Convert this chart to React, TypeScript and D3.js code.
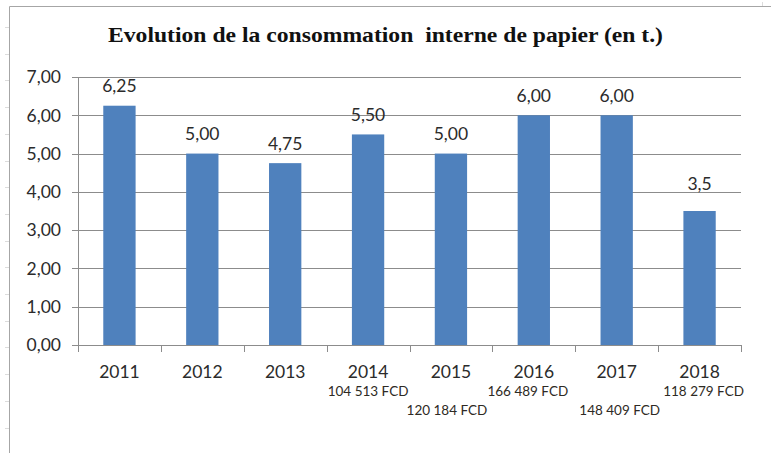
import * as d3 from 'd3'

const years = ['2011', '2012', '2013', '2014', '2015', '2016', '2017', '2018']
const consumption = [6.25, 5.0, 4.75, 5.5, 5.0, 6.0, 6.0, 3.5]
const valueLabels = ['6,25', '5,00', '4,75', '5,50', '5,00', '6,00', '6,00', '3,5']
const costLabels = ['', '', '', '104 513 FCD', '120 184 FCD', '166 489 FCD', '148 409 FCD', '118 279 FCD']
const costRow = [0, 0, 0, 0, 1, 0, 1, 0]
const yTicks = [0, 1, 2, 3, 4, 5, 6, 7]

const TITLE = 'Evolution de la consommation\u00a0 interne de papier (en t.)'
const BAR = '#4f81bd'
const GRID = '#8c8c8c'
const TEXT = '#2b2b2b'
const FONT = 'Lato, "Noto Sans", sans-serif'

// hand placement of a couple of labels in the original sheet
const costDx: Record<string, number> = { '2015': -4, '2016': -6, '2017': 3, '2018': 4 }
const labelLift: Record<string, number> = { '2018': 8 }

export default function App() {
  const width = 771
  const height = 453
  const left = 78
  const right = 741
  const top = 77
  const bottom = 345

  const x = d3.scaleBand<string>().domain(years).range([left, right]).paddingInner(0.61).paddingOuter(0.305)
  const y = d3.scaleLinear().domain([0, 7]).range([bottom, top])
  const step = x.step()
  const fmt = (v: number) => d3.format('.2f')(v).replace('.', ',')

  return (
    <svg
      width={width}
      height={height}
      viewBox={`0 0 ${width} ${height}`}
      style={{ position: 'absolute', left: 0, top: 0, background: '#fff' }}
    >
      {/* sheet frame */}
      <line x1={9.5} y1={6.5} x2={771} y2={6.5} stroke="#a6a6a6" />
      <line x1={9.5} y1={6.5} x2={9.5} y2={453} stroke="#a6a6a6" />
      {d3.range(27, 453, 26.7).map((yy) => (
        <line key={yy} x1={5} x2={9} y1={Math.round(yy) + 0.5} y2={Math.round(yy) + 0.5} stroke="#dcdcdc" />
      ))}
      <line x1={762.5} x2={762.5} y1={2} y2={6} stroke="#dcdcdc" />

      <text
        x={(108 + 663) / 2}
        y={42}
        textAnchor="middle"
        fontFamily='"Liberation Serif", "DejaVu Serif", serif'
        fontWeight="bold"
        fontSize={20}
        textLength={555}
        lengthAdjust="spacingAndGlyphs"
        fill="#111"
      >
        {TITLE}
      </text>

      {/* grid + y axis */}
      {yTicks.map((t) => (
        <g key={t}>
          <line x1={left - 6} x2={right} y1={Math.round(y(t)) + 0.5} y2={Math.round(y(t)) + 0.5} stroke={GRID} />
          <text
            x={left - 17}
            y={y(t)}
            dy="0.36em"
            textAnchor="end"
            fontFamily={FONT}
            fontSize={17.5}
            fill={TEXT}
          >
            {fmt(t)}
          </text>
        </g>
      ))}
      <line x1={left + 0.5} x2={left + 0.5} y1={top} y2={bottom} stroke={GRID} />

      {/* x axis ticks at category boundaries */}
      {d3.range(years.length + 1).map((i) => {
        const xx = Math.round(left + i * step) + 0.5
        return <line key={i} x1={xx} x2={xx} y1={bottom} y2={bottom + 7} stroke={GRID} />
      })}

      {years.map((yr, i) => {
        const bx = x(yr) ?? 0
        const cx = bx + x.bandwidth() / 2
        const v = consumption[i]
        return (
          <g key={yr}>
            <rect x={bx} y={y(v)} width={x.bandwidth()} height={bottom - y(v)} fill={BAR} />
            <text
              x={cx}
              y={y(v) - 13.5 - (labelLift[yr] ?? 0)}
              textAnchor="middle"
              fontFamily={FONT}
              fontSize={17.5}
              fill={TEXT}
            >
              {valueLabels[i]}
            </text>
            <text x={cx} y={378} textAnchor="middle" fontFamily={FONT} fontSize={17.5} fill={TEXT}>
              {yr}
            </text>
            {costLabels[i] && (
              <text
                x={cx + (costDx[yr] ?? 0)}
                y={costRow[i] ? 415 : 396}
                textAnchor="middle"
                fontFamily={FONT}
                fontSize={13.5}
                fill="#2e2a24"
              >
                {costLabels[i]}
              </text>
            )}
          </g>
        )
      })}
    </svg>
  )
}
